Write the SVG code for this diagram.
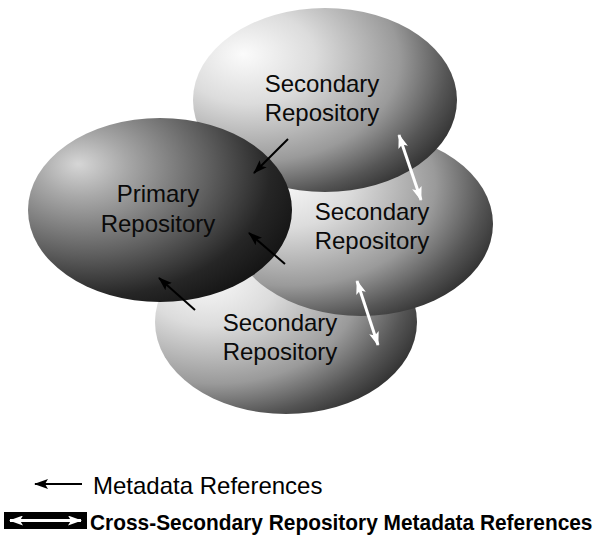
<svg xmlns="http://www.w3.org/2000/svg" width="601" height="558" viewBox="0 0 601 558">
  <defs>
    <radialGradient id="gradSecondary" cx="0.25" cy="0.3" r="0.85" fx="0.19" fy="0.25">
      <stop offset="0" stop-color="#fbfbfb"/>
      <stop offset="0.3" stop-color="#dcdcdc"/>
      <stop offset="0.65" stop-color="#9a9a9a"/>
      <stop offset="0.85" stop-color="#555"/>
      <stop offset="1" stop-color="#2a2a2a"/>
    </radialGradient>
    <radialGradient id="gradPrimary" cx="0.25" cy="0.3" r="0.85" fx="0.19" fy="0.25">
      <stop offset="0" stop-color="#d6d6d6"/>
      <stop offset="0.2" stop-color="#a8a8a8"/>
      <stop offset="0.55" stop-color="#5e5e5e"/>
      <stop offset="0.8" stop-color="#262626"/>
      <stop offset="1" stop-color="#111"/>
    </radialGradient>
    <marker id="headBlack" viewBox="0 0 14 10" refX="13" refY="5" markerWidth="14" markerHeight="10" markerUnits="userSpaceOnUse" orient="auto">
      <path d="M0,0 L14,5 L0,10 L3,5 Z" fill="#000"/>
    </marker>
    <marker id="headWhite" viewBox="0 0 14 10" refX="13" refY="5" markerWidth="14" markerHeight="10" markerUnits="userSpaceOnUse" orient="auto-start-reverse">
      <path d="M0,0 L14,5 L0,10 L3,5 Z" fill="#fff"/>
    </marker>
  </defs>
  <style>
    .label { font-family: "Liberation Sans", Arial, sans-serif; font-size: 24px; fill: #0a0a0a; text-anchor: middle; }
    .ref { stroke: #000; stroke-width: 2; fill: none; marker-end: url(#headBlack); }
    .cross { stroke: #fff; stroke-width: 3; fill: none; marker-start: url(#headWhite); marker-end: url(#headWhite); }
    .legend { font-family: "Liberation Sans", Arial, sans-serif; fill: #000; }
  </style>

  <rect width="601" height="558" fill="#fff"/>

  <!-- repositories, back to front -->
  <g id="secondary-bottom">
    <ellipse cx="286" cy="322" rx="131" ry="92" fill="url(#gradSecondary)"/>
    <text class="label" x="280" y="331">Secondary</text>
    <text class="label" x="280" y="360">Repository</text>
  </g>
  <g id="secondary-middle">
    <ellipse cx="361" cy="224" rx="132" ry="92" fill="url(#gradSecondary)"/>
    <text class="label" x="372" y="220">Secondary</text>
    <text class="label" x="372" y="249">Repository</text>
  </g>
  <g id="secondary-top">
    <ellipse cx="325" cy="100" rx="132" ry="92" fill="url(#gradSecondary)"/>
    <text class="label" x="322" y="92">Secondary</text>
    <text class="label" x="322" y="121">Repository</text>
  </g>
  <g id="primary">
    <ellipse cx="160" cy="210" rx="132" ry="92" fill="url(#gradPrimary)"/>
    <text class="label" x="158" y="202">Primary</text>
    <text class="label" x="158" y="232">Repository</text>
  </g>

  <!-- metadata references -->
  <g id="connectors">
    <line class="ref" x1="288" y1="139" x2="254" y2="173"/>
    <line class="ref" x1="285" y1="264" x2="249" y2="233"/>
    <line class="ref" x1="195" y1="310" x2="159" y2="278"/>
    <line class="cross" x1="399" y1="135" x2="421" y2="200"/>
    <line class="cross" x1="357" y1="281" x2="378" y2="345"/>
  </g>

  <!-- key -->
  <g id="legend">
    <line class="ref" x1="82" y1="484" x2="35" y2="484"/>
    <text class="legend" x="93" y="494" font-size="24">Metadata References</text>
    <rect x="4" y="512" width="83" height="17" fill="#000"/>
    <line class="cross" x1="10" y1="520.5" x2="81" y2="520.5"/>
    <!-- condensed bold caption -->
    <text class="legend" transform="translate(90,530) scale(0.95,1)" x="0" y="0" font-size="22" font-weight="bold">Cross-Secondary Repository Metadata References</text>
  </g>
</svg>
